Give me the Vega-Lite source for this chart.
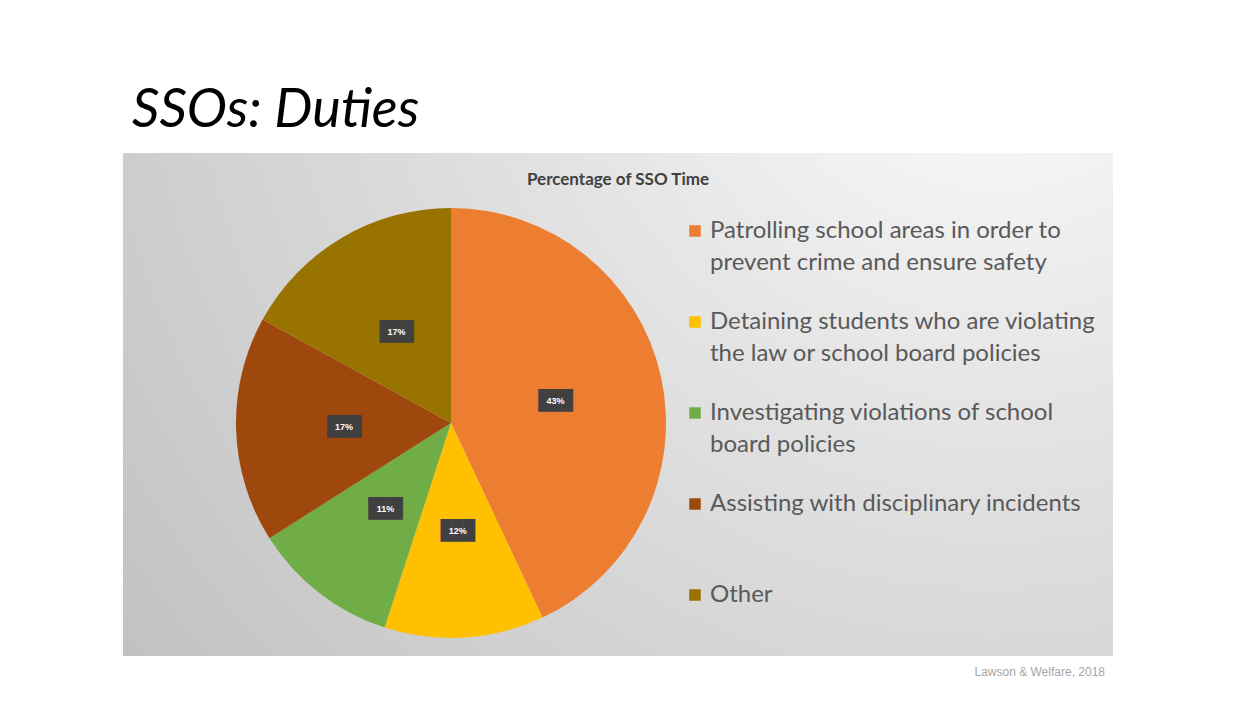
{
  "$schema": "https://vega.github.io/schema/vega-lite/v6.json",
  "background": "white",
  "padding": {"left": 123, "top": 84, "right": 0, "bottom": 0},
  "title": {
    "text": "SSOs: Duties",
    "anchor": "start",
    "dx": 9,
    "offset": 15,
    "font": "Lato",
    "fontSize": 54,
    "fontStyle": "italic",
    "fontWeight": "normal",
    "color": "#000000"
  },
  "data": {
    "values": [
      {"idx": 1, "duty": "Patrolling school areas in order to prevent crime and ensure safety", "share": 0.43},
      {"idx": 2, "duty": "Detaining students who are violating the law or school board policies", "share": 0.12},
      {"idx": 3, "duty": "Investigating violations of school board policies", "share": 0.11},
      {"idx": 4, "duty": "Assisting with disciplinary incidents", "share": 0.17},
      {"idx": 5, "duty": "Other", "share": 0.17}
    ]
  },
  "vconcat": [
    {
      "title": {
        "text": "Lawson & Welfare, 2018",
        "orient": "bottom",
        "anchor": "end",
        "dx": -8,
        "offset": 11,
        "font": "Liberation Sans",
        "fontSize": 12,
        "fontWeight": "normal",
        "color": "#a6a6a6"
      },
      "vconcat": [
        {
          "width": 990,
          "height": 503,
          "view": {
            "stroke": null,
            "fill": {
              "gradient": "radial",
              "x1": 0.88, "y1": 0.06, "r1": 0,
              "x2": 0.88, "y2": 0.06, "r2": 1.2,
              "stops": [
                {"offset": 0, "color": "#ffffff"},
                {"offset": 0.35, "color": "#e6e6e6"},
                {"offset": 1, "color": "#bdbdbd"}
              ]
            }
          },
          "title": {
            "text": "Percentage of SSO Time",
            "anchor": "middle",
            "offset": -36,
            "font": "Lato",
            "fontSize": 17,
            "fontWeight": "bold",
            "color": "#404040"
          },
          "encoding": {
            "theta": {"field": "share", "type": "quantitative", "stack": true},
            "order": {"field": "idx", "type": "quantitative"}
          },
          "layer": [
            {
              "mark": {
                "type": "arc",
                "outerRadius": 215,
                "x": 328,
                "y": 270
              },
              "encoding": {
                "color": {
                  "field": "duty",
                  "type": "nominal",
                  "scale": {
                    "domain": [
                      "Patrolling school areas in order to prevent crime and ensure safety",
                      "Detaining students who are violating the law or school board policies",
                      "Investigating violations of school board policies",
                      "Assisting with disciplinary incidents",
                      "Other"
                    ],
                    "range": ["#ED7D31", "#FFC000", "#70AD47", "#9E480E", "#997300"]
                  },
                  "legend": {
                    "title": null,
                    "orient": "none",
                    "legendX": 560,
                    "legendY": 66,
                    "padding": 0,
                    "symbolType": "square",
                    "symbolSize": 132,
                    "symbolStrokeWidth": 0,
                    "labelFont": "Lato",
                    "labelFontSize": 24,
                    "labelColor": "#595959",
                    "labelOffset": 3,
                    "labelLimit": 500,
                    "rowPadding": 35,
                    "encode": {"labels": {"update": {"lineHeight": {"value": 32}}}},
                    "labelExpr": "{'Patrolling school areas in order to prevent crime and ensure safety': ['Patrolling school areas in order to', 'prevent crime and ensure safety'], 'Detaining students who are violating the law or school board policies': ['Detaining students who are violating', 'the law or school board policies'], 'Investigating violations of school board policies': ['Investigating violations of school', 'board policies'], 'Assisting with disciplinary incidents': ['Assisting with disciplinary incidents', ' '], 'Other': ['Other', ' ']}[datum.label]"
                  }
                }
              }
            },
            {
              "mark": {
                "type": "text",
                "radius": 107,
                "x": 328,
                "y": 271,
                "font": "DejaVu Sans Mono",
                "fontSize": 19,
                "fill": "#404040"
              },
              "encoding": {
                "detail": {"field": "duty", "type": "nominal"},
                "text": {"value": "███"}
              }
            },
            {
              "mark": {
                "type": "text",
                "radius": 107,
                "x": 328,
                "y": 271,
                "font": "Liberation Sans",
                "fontSize": 9,
                "fontWeight": "bold",
                "fill": "#ffffff"
              },
              "encoding": {
                "detail": {"field": "duty", "type": "nominal"},
                "text": {"field": "share", "type": "quantitative", "format": ".0%"}
              }
            }
          ]
        }
      ]
    }
  ]
}
